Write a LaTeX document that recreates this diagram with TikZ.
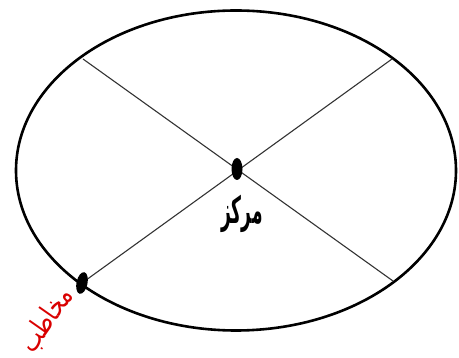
\documentclass[tikz,border=0pt]{standalone}
\usepackage{fontspec}
\newfontfamily\arabicfont[Script=Arabic]{DejaVu Sans}
\TeXXeTstate=1
\usetikzlibrary{shapes.geometric}
\begin{document}
\begin{tikzpicture}[x=1pt,y=-1pt,
  rim/.style={line width=2.6pt,black},
  spoke/.style={line width=1.1pt,black!80},
  dotmark/.style={ellipse,fill=black,inner sep=0pt,minimum width=11pt,minimum height=22pt},
  lbl/.style={inner sep=0pt}]
\useasboundingbox (0,0) rectangle (459,358);
\coordinate (c) at (236,170.5);
\draw[rim] (c) ellipse [x radius=220, y radius=160];
\coordinate (tl) at (83,59);
\coordinate (tr) at (392,59);
\coordinate (br) at (393,281);
\coordinate (bl) at (82,283);
\draw[spoke] (tl) -- (br);
\draw[spoke] (tr) -- (bl);
\node[dotmark] (cd) at (237,169) {};
\node[dotmark,rotate=-12] (bd) at (bl) {};
\node[lbl,font=\arabicfont\bfseries\fontsize{17}{20}\selectfont,yscale=2.2,xscale=1.0] (t1) at (242,214) {\beginR مرکز\endR};
\node[lbl,text=red!85!black,font=\arabicfont\fontsize{22}{26}\selectfont,rotate=55,yscale=1.3] (t2) at (47,320) {\beginR مخاطب\endR};
\end{tikzpicture}
\end{document}
